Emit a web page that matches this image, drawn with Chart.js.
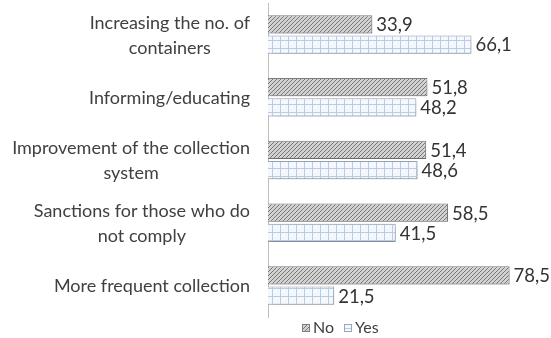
<!DOCTYPE html>
<html>
<head>
<meta charset="utf-8">
<script src="https://cdn.jsdelivr.net/npm/chart.js@4"></script>
<style>
  html, body { margin: 0; padding: 0; background: #fff; }
  #wrap { width: 551px; height: 338px; }
</style>
</head>
<body>
<div id="wrap"><canvas id="myChart" width="551" height="338"></canvas></div>
<script>
// Chart data
const categories = [
    ['Increasing the no. of', 'containers'],
    ['Informing/educating'],
    ['Improvement of the collection', 'system'],
    ['Sanctions for those who do', 'not comply'],
    ['More frequent collection']
];
const noValues = [33.9, 51.8, 51.4, 58.5, 78.5];
const yesValues = [66.1, 48.2, 48.6, 41.5, 21.5];
const seriesNames = ['No', 'Yes'];

const FONT = 'Lato, "Open Sans", sans-serif';

// Diagonal hatch for "No"
function hatchPattern() {
    const c = document.createElement('canvas');
    c.width = 4; c.height = 4;
    const g = c.getContext('2d');
    g.fillStyle = '#d2d2d2';
    g.fillRect(0, 0, 4, 4);
    g.strokeStyle = '#777777';
    g.lineWidth = 1;
    g.beginPath();
    g.moveTo(0, 4); g.lineTo(4, 0);
    g.moveTo(-1, 1); g.lineTo(1, -1);
    g.moveTo(3, 5); g.lineTo(5, 3);
    g.stroke();
    return g.createPattern(c, 'repeat');
}

// Light blue grid for "Yes"
function gridPattern() {
    const c = document.createElement('canvas');
    c.width = 8; c.height = 8;
    const g = c.getContext('2d');
    g.fillStyle = '#f4f8fd';
    g.fillRect(0, 0, 8, 8);
    g.fillStyle = '#b9cce6';
    g.fillRect(0, 0, 8, 1);
    g.fillRect(0, 0, 1, 8);
    return g.createPattern(c, 'repeat');
}

// soft shadow under the bars
const barShadow = {
    id: 'barShadow',
    beforeDatasetsDraw(chart) {
        const c = chart.ctx;
        c.save();
        c.shadowColor = 'rgba(0,0,0,0.2)';
        c.shadowBlur = 6;
        c.shadowOffsetX = 2;
        c.shadowOffsetY = 3;
    },
    afterDatasetsDraw(chart) {
        chart.ctx.restore();
    }
};

// Category labels: block right aligned, lines centred in the block
const catLabels = {
    id: 'catLabels',
    afterDraw(chart) {
        const c = chart.ctx;
        const yScale = chart.scales.y;
        const right = yScale.right - 18;
        const lh = 25;
        c.save();
        c.font = '18px ' + FONT;
        c.fillStyle = '#404040';
        c.textAlign = 'center';
        c.textBaseline = 'middle';
        categories.forEach((lines, i) => {
            const y = yScale.getPixelForValue(i) + 1;
            const w = Math.max(...lines.map(l => c.measureText(l).width));
            const cx = right - w / 2;
            lines.forEach((l, k) => {
                c.fillText(l, cx, y + (k - (lines.length - 1) / 2) * lh);
            });
        });
        c.restore();
    }
};

// Write values at the end of each bar
const valueLabels = {
    id: 'valueLabels',
    afterDraw(chart) {
        const c = chart.ctx;
        c.save();
        c.font = '18.5px ' + FONT;
        c.fillStyle = '#333333';
        c.textBaseline = 'middle';
        c.textAlign = 'left';
        chart.data.datasets.forEach((ds, i) => {
            chart.getDatasetMeta(i).data.forEach((bar, j) => {
                c.fillText(ds.data[j].toFixed(1).replace('.', ','), bar.x + 4, bar.y + 1);
            });
        });
        c.restore();
    }
};

// Legend under the plot
const bottomLegend = {
    id: 'bottomLegend',
    afterDraw(chart) {
        const c = chart.ctx;
        const y = 328;
        let x = 302;
        c.save();
        c.font = '16px ' + FONT;
        c.textBaseline = 'middle';
        c.textAlign = 'left';
        chart.data.datasets.forEach(ds => {
            c.fillStyle = ds.backgroundColor;
            c.fillRect(x, y - 4, 8, 8);
            c.strokeStyle = ds.borderColor;
            c.lineWidth = 1;
            c.strokeRect(x + 0.5, y - 3.5, 7, 7);
            c.fillStyle = '#404040';
            c.fillText(ds.label, x + 11, y);
            x += 11 + c.measureText(ds.label).width + 10;
        });
        c.restore();
    }
};

const ctx = document.getElementById('myChart').getContext('2d');
new Chart(ctx, {
    type: 'bar',
    data: {
        labels: categories,
        datasets: [{
            label: seriesNames[0],
            data: noValues,
            backgroundColor: hatchPattern(),
            borderColor: '#808080',
            borderWidth: 1,
            borderSkipped: 'start'
        }, {
            label: seriesNames[1],
            data: yesValues,
            backgroundColor: gridPattern(),
            borderColor: '#9aa6b4',
            borderWidth: 1,
            borderSkipped: 'start'
        }]
    },
    options: {
        indexAxis: 'y',
        responsive: false,
        animation: false,
        categoryPercentage: 0.645,
        barPercentage: 0.9,
        layout: { padding: { top: 3, right: 6, left: 0, bottom: 21 } },
        scales: {
            x: {
                min: 0,
                max: 90,
                display: false
            },
            y: {
                afterFit(scale) { scale.width = 268; },
                grid: { display: false, drawTicks: false },
                border: { color: '#bfbfbf', width: 1 },
                ticks: { display: false }
            }
        },
        plugins: {
            legend: { display: false },
            tooltip: { enabled: false }
        }
    },
    plugins: [barShadow, catLabels, valueLabels, bottomLegend]
});
</script>
</body>
</html>
